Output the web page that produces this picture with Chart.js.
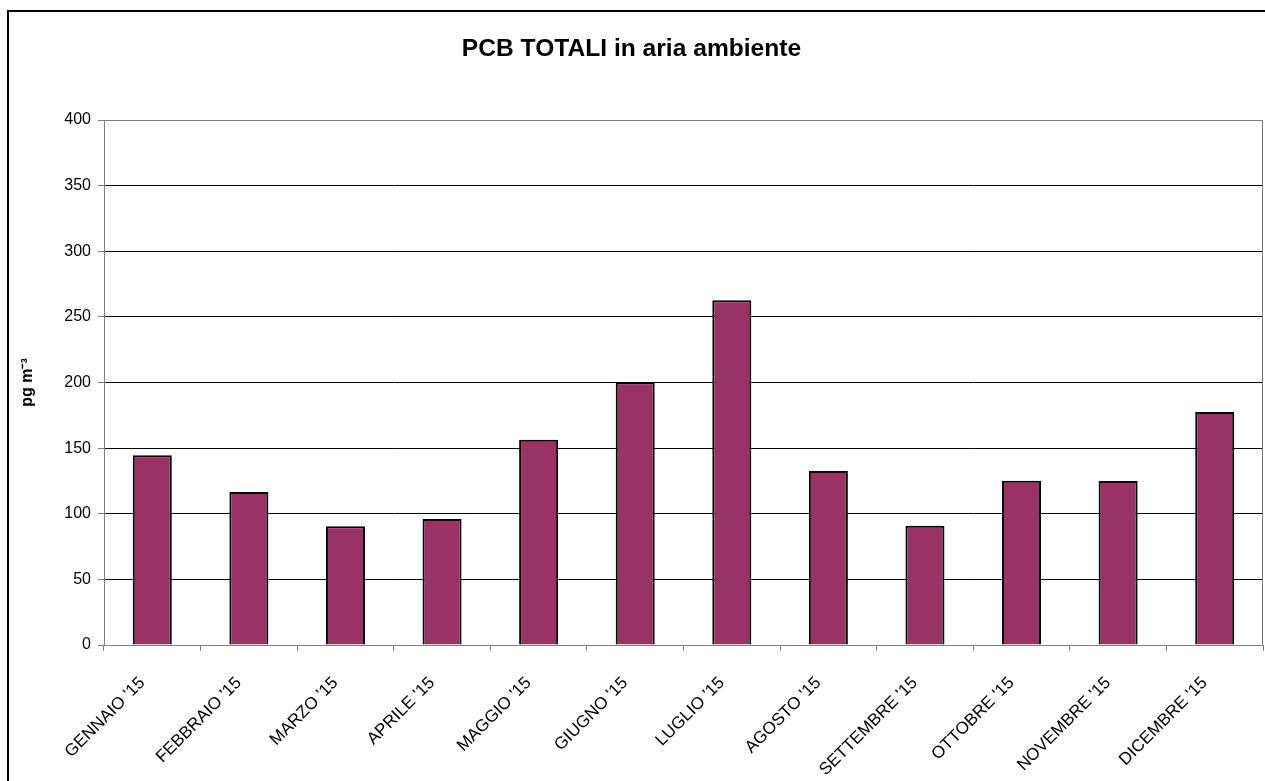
<!DOCTYPE html>
<html>
<head>
<meta charset="utf-8">
<script src="https://cdn.jsdelivr.net/npm/chart.js@4"></script>
<style>
  html, body { margin: 0; padding: 0; background: #fff; overflow: hidden; }
  #wrap { position: absolute; left: 0; top: 0; width: 1265px; height: 781px; }
  #frame { position: absolute; left: 7px; top: 10px; width: 1300px; height: 800px;
           border-left: 2px solid #000; border-top: 2px solid #000; pointer-events: none; }
</style>
</head>
<body>
<div id="wrap"><canvas id="c" width="1265" height="781"></canvas></div>
<div id="frame"></div>
<script>
const categories = ["GENNAIO '15","FEBBRAIO '15","MARZO '15","APRILE '15","MAGGIO '15","GIUGNO '15","LUGLIO '15","AGOSTO '15","SETTEMBRE '15","OTTOBRE '15","NOVEMBRE '15","DICEMBRE '15"];
const pcbValues = [144.5, 116.6, 90.4, 96, 156.4, 200, 262.6, 132.6, 90.9, 125.2, 125, 177.5];
const yTicks = [0, 50, 100, 150, 200, 250, 300, 350, 400];
const titleText = "PCB TOTALI in aria ambiente";
const yTitle = "pg m\u207B\u00B3";

const FONT = "Arial, 'Liberation Sans', sans-serif";

const plotBorder = {
  id: 'plotBorder',
  afterDatasetsDraw(chart) {
    const a = chart.chartArea, ctx = chart.ctx;
    ctx.save();
    ctx.strokeStyle = '#808080';
    ctx.lineWidth = 1;
    ctx.beginPath();
    ctx.moveTo(a.left, a.top + 0.5);
    ctx.lineTo(a.right - 0.5, a.top + 0.5);
    ctx.lineTo(a.right - 0.5, a.bottom);
    ctx.stroke();
    ctx.restore();
  }
};

new Chart(document.getElementById('c'), {
  type: 'bar',
  data: {
    labels: categories,
    datasets: [{
      data: pcbValues,
      backgroundColor: '#993366',
      borderColor: '#000000',
      borderWidth: 2,
      barPercentage: 0.404,
      categoryPercentage: 1.0
    }]
  },
  options: {
    responsive: false,
    animation: false,
    devicePixelRatio: 1,
    layout: { padding: { left: 0, right: 2, top: 0, bottom: 0 } },
    plugins: {
      legend: { display: false },
      tooltip: { enabled: false },
      title: {
        display: true,
        text: titleText,
        color: '#000',
        font: { family: FONT, size: 24.6, weight: 'bold', lineHeight: 1.2 },
        padding: { top: 34, bottom: 56.5 }
      }
    },
    scales: {
      x: {
        grid: { display: true, drawOnChartArea: false, drawTicks: true, tickLength: 6, color: '#808080', offset: true },
        border: { display: true, color: '#808080', width: 1 },
        ticks: {
          color: '#000',
          font: { family: FONT, size: 17 },
          minRotation: 45,
          maxRotation: 45,
          autoSkip: false,
          padding: 22,
          labelOffset: -10
        },
        afterFit(scale) { scale.height = 136; }
      },
      y: {
        min: 0,
        max: 400,
        afterBuildTicks(scale) { scale.ticks = yTicks.map(v => ({ value: v })); },
        grid: {
          color: (ctx) => (ctx.tick && ctx.tick.value === 400) ? '#808080' : '#000000',
          lineWidth: 1,
          drawTicks: true,
          tickLength: 6,
          tickColor: '#808080'
        },
        border: { display: true, color: '#808080', width: 1 },
        ticks: {
          color: '#000',
          font: { family: FONT, size: 16 },
          padding: 7
        },
        title: {
          display: true,
          text: yTitle,
          color: '#000',
          font: { family: FONT, size: 16, weight: 'bold' },
          padding: { top: 18, bottom: 0 }
        },
        afterFit(scale) { scale.width = 104; }
      }
    }
  },
  plugins: [plotBorder]
});
</script>
</body>
</html>
